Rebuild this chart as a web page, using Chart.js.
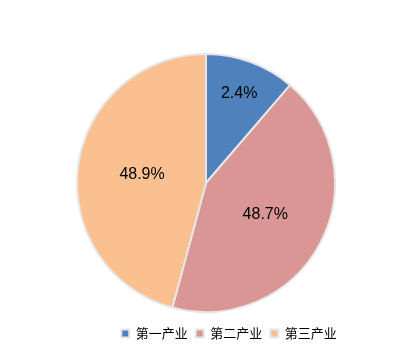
<!DOCTYPE html>
<html>
<head>
<meta charset="utf-8">
<script src="https://cdn.jsdelivr.net/npm/chart.js@4.4.1/dist/chart.umd.min.js"></script>
<style>
    html, body { margin: 0; padding: 0; background: #fff; }
</style>
</head>
<body>
<canvas id="pieChart" width="412" height="359"></canvas>
<script>
const categories = ['第一产业', '第二产业', '第三产业'];
const sliceValues = [11.3, 42.9, 45.8];
// the percentage texts printed on the slices
const sliceLabels = ['2.4%', '48.7%', '48.9%'];
const sliceColors = ['#4F81BD', '#D99694', '#FAC090'];

// draws the text label inside each slice
const sliceLabelPlugin = {
    id: 'sliceLabels',
    afterLayout: function (chart) {
        // legend sits a bit right of centre in the original
        const lg = chart.legend;
        lg.left += 23;
        lg.right += 23;
        lg.adjustHitBoxes();
    },
    afterDatasetsDraw: function (chart) {
        const ctx = chart.ctx;
        const meta = chart.getDatasetMeta(0);
        const factors = [0.74, 0.52, 0.5];
        ctx.save();
        ctx.font = '16px "Liberation Sans", Arial, sans-serif';
        ctx.fillStyle = '#000';
        ctx.textAlign = 'center';
        ctx.textBaseline = 'middle';
        meta.data.forEach(function (arc, i) {
            const p = arc.getProps(['x', 'y', 'startAngle', 'endAngle', 'outerRadius'], true);
            const mid = (p.startAngle + p.endAngle) / 2;
            const r = p.outerRadius * factors[i];
            ctx.fillText(sliceLabels[i], p.x + Math.cos(mid) * r, p.y + Math.sin(mid) * r);
        });
        ctx.restore();
    }
};

new Chart(document.getElementById('pieChart'), {
    type: 'pie',
    data: {
        labels: categories,
        datasets: [{
            data: sliceValues,
            backgroundColor: sliceColors,
            borderColor: '#E6E6E6',
            borderWidth: 2
        }]
    },
    options: {
        responsive: false,
        animation: false,
        radius: 129,
        layout: {
            padding: { top: 47, bottom: 9, left: 0, right: 0 }
        },
        plugins: {
            legend: {
                position: 'bottom',
                labels: {
                    boxWidth: 8,
                    boxHeight: 8,
                    padding: 8,
                    color: '#000',
                    font: { size: 13, family: '"Noto Sans CJK SC", sans-serif' }
                }
            },
            tooltip: { enabled: false }
        }
    },
    plugins: [sliceLabelPlugin]
});
</script>
</body>
</html>
